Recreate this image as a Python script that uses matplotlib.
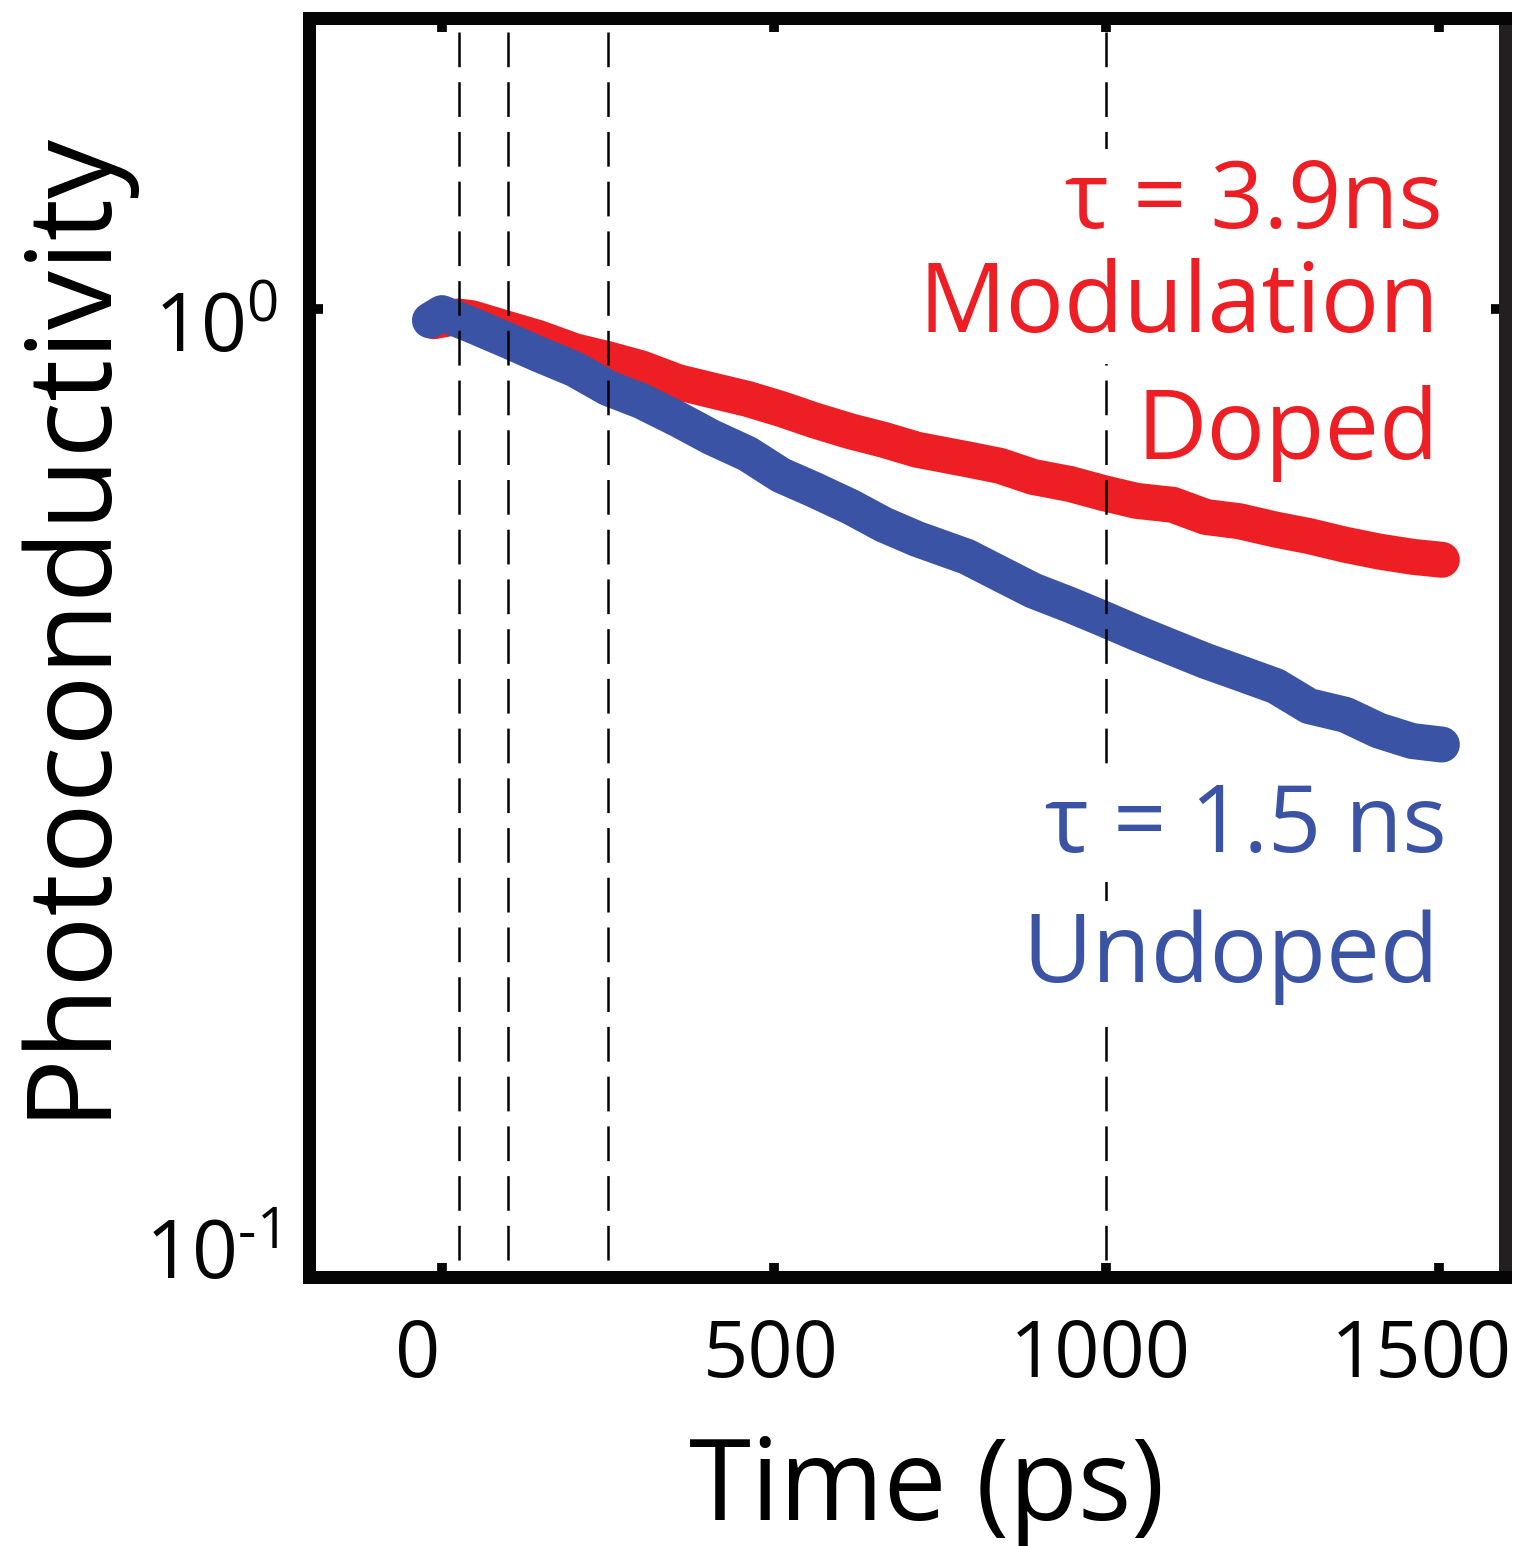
import matplotlib
matplotlib.use('Agg')
import matplotlib.pyplot as plt
from matplotlib.transforms import ScaledTranslation

# ---------------- data ----------------
time_doped = [-12, 25, 45, 95, 145, 200, 250, 300, 355, 405, 460, 510, 560, 615,
              665, 715, 790, 840, 890, 945, 995, 1045, 1100, 1150, 1200, 1255,
              1305, 1360, 1410, 1460, 1505]
sig_doped = [0.972, 0.983, 0.979, 0.956, 0.934, 0.905, 0.888, 0.869, 0.841, 0.825,
             0.808, 0.789, 0.768, 0.748, 0.733, 0.716, 0.700, 0.689, 0.671, 0.660,
             0.646, 0.634, 0.628, 0.610, 0.604, 0.592, 0.583, 0.571, 0.562, 0.555,
             0.551]

time_undoped = [-18, 0, 45, 95, 145, 200, 250, 300, 355, 405, 460, 510, 560, 615,
                665, 715, 790, 840, 890, 945, 995, 1045, 1100, 1150, 1200, 1255,
                1305, 1360, 1410, 1460, 1505]
sig_undoped = [0.974, 0.991, 0.963, 0.931, 0.899, 0.867, 0.829, 0.804, 0.770, 0.738,
               0.709, 0.674, 0.651, 0.625, 0.599, 0.579, 0.555, 0.533, 0.512, 0.495,
               0.479, 0.463, 0.447, 0.433, 0.421, 0.408, 0.389, 0.381, 0.367, 0.358,
               0.355]

marker_times = [25, 100, 250, 1000]

xticks = [0, 500, 1000, 1500]
xtick_labels = ['0', '500', '1000', '1500']
yticks = [0.1, 1]
ytick_labels = ['$\\mathregular{10^{\u20101}}$', r'$\mathregular{10^{0}}$']

doped_label = ['\u03c4 = 3.9ns', 'Modulation', 'Doped']
undoped_label = ['\u03c4 = 1.5 ns', 'Undoped']

# ---------------- style ----------------
RED = '#ED1F24'
BLUE = '#3A53A4'
W, H = 1513, 1546
DPI = 100

plt.rcParams['font.family'] = ['Open Sans', 'DejaVu Sans']
plt.rcParams['mathtext.fontset'] = 'custom'
plt.rcParams['mathtext.rm'] = 'Open Sans'
plt.rcParams['mathtext.it'] = 'Open Sans:italic'
plt.rcParams['mathtext.bf'] = 'Open Sans:bold'
plt.rcParams['lines.scale_dashes'] = False

fig = plt.figure(figsize=(W / DPI, H / DPI), dpi=DPI)
ax = fig.add_axes([309 / W, 1 - 1277 / H, (1505 - 309) / W, (1277 - 18) / H])

def fpx(x, y):
    return (x / W, 1 - y / H)

ax.set_yscale('log')
ax.set_xlim(-200, 1600)
ax.set_ylim(0.1, 2)

# dashed guide lines (drawn from the top down)
for t in marker_times:
    ax.axvline(t, ymin=0.989, ymax=0.0095, color='black', lw=1.8,
               dashes=(25, 10.8), zorder=3)

lw_band = 36 * 72 / DPI
ax.plot(time_doped, sig_doped, color=RED, lw=lw_band, solid_capstyle='round',
        solid_joinstyle='round', zorder=2)
ax.plot(time_undoped, sig_undoped, color=BLUE, lw=lw_band, solid_capstyle='round',
        solid_joinstyle='round', zorder=2.5)

# axes frame
for side, sp in ax.spines.items():
    sp.set_linewidth(13 * 72 / DPI)
    sp.set_color('#050505')
    sp.set_zorder(5)
ax.spines['right'].set_color('#231F20')

ax.set_xticks(xticks)
ax.set_xticklabels(xtick_labels)
ax.set_yticks(yticks)
ax.set_yticklabels(ytick_labels)
ax.minorticks_off()
ax.yaxis.set_minor_locator(matplotlib.ticker.NullLocator())
ax.tick_params(axis='both', which='major', direction='in', length=10, width=7,
               top=True, right=True, colors='#050505')
ax.tick_params(axis='x', labelsize=57, pad=29)
ax.tick_params(axis='y', labelsize=58, pad=22)

# small label offsets as in the reference
xoffs = [-24, -3, -6, -17]
for lab, dx in zip(ax.get_xticklabels(), xoffs):
    lab.set_transform(lab.get_transform() + ScaledTranslation(dx / DPI, 0, fig.dpi_scale_trans))
yoffs = [29, -12]
for lab, dy in zip(ax.get_yticklabels(), yoffs):
    lab.set_transform(lab.get_transform() + ScaledTranslation(0, dy / DPI, fig.dpi_scale_trans))

# axis titles
fig.text(*fpx(101, 623), 'Photoconductivity', rotation=90, rotation_mode='anchor',
         ha='center', va='baseline', fontsize=85, color='black')
fig.text(*fpx(927, 1520), 'Time (ps)', ha='center', va='baseline', fontsize=81,
         color='black')

# annotations (white boxes hide the dashed line behind the text)
box = dict(facecolor='white', edgecolor='none', pad=6)
kw = dict(ha='right', va='baseline', zorder=10, bbox=box)
fig.text(*fpx(1443, 228), doped_label[0], fontsize=67, color=RED, **kw)
fig.text(*fpx(1439, 332), doped_label[1], fontsize=70, color=RED, **kw)
fig.text(*fpx(1439, 459), doped_label[2], fontsize=70, color=RED, ha='right',
         va='baseline', zorder=10)
fig.text(*fpx(1447, 852), undoped_label[0], fontsize=67, color=BLUE, **kw)
fig.text(*fpx(1439, 982), undoped_label[1], fontsize=69, color=BLUE, **kw)

fig.savefig('out.png', dpi=DPI, facecolor='white')
